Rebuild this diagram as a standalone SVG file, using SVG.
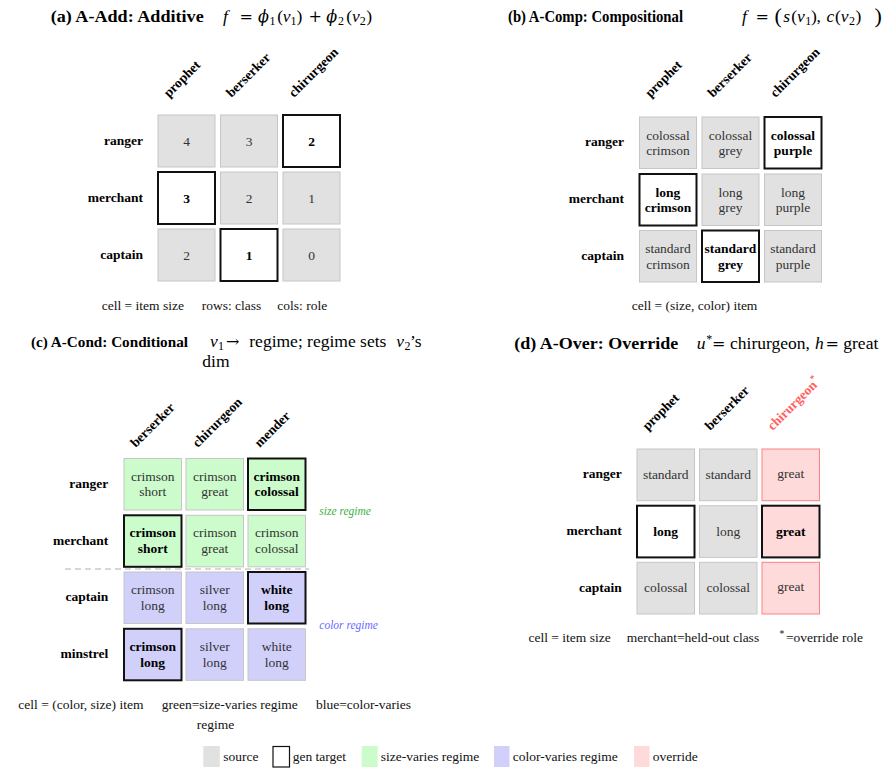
<svg xmlns="http://www.w3.org/2000/svg" width="889" height="775" viewBox="0 0 889 775">
<style>
text{font-family:"Liberation Serif","Times New Roman",serif;}
.ttl{font-size:17.5px;font-weight:bold;fill:#000}
.m{font-size:17.5px;fill:#000}
.i{font-style:italic}
.sb{font-size:12px}
.op{font-family:"DejaVu Serif",serif;font-size:16px}
.ph{font-family:"DejaVu Serif",serif;font-style:italic;font-size:16px}
.src{fill:#e1e1e1;stroke:#c6c6c6;stroke-width:1}
.tgt{fill:#fff;stroke:#111;stroke-width:2}
.grn{fill:#ccfccc;stroke:#c6c6c6;stroke-width:1}
.blu{fill:#d0d0fb;stroke:#c6c6c6;stroke-width:1}
.ovr{fill:#ffdada;stroke:#ff8080;stroke-width:1}
.bx{fill:none;stroke:#111;stroke-width:2}
.ct{font-size:13.5px;fill:#333;text-anchor:middle}
.cb{font-size:13.5px;fill:#000;font-weight:bold;text-anchor:middle}
.rl{font-size:13.5px;font-weight:bold;fill:#000;text-anchor:end}
.cl{font-size:13.5px;font-weight:bold;fill:#000}
.clr{font-size:13.5px;font-weight:bold;fill:#ff6161}
.cap{font-size:13.5px;fill:#111}
</style>

<!-- Panel (a) -->
<g id="panel-a">
  <text class="ttl" x="50.7" y="21.5" textLength="153" lengthAdjust="spacingAndGlyphs">(a) A-Add: Additive</text>
  <text class="m" y="21.5"><tspan class="i" x="223">f</tspan><tspan class="op" x="239.5">=</tspan><tspan class="ph" x="258">ϕ</tspan><tspan class="sb" x="269.5" dy="3">1</tspan><tspan x="277.2" dy="-3">(</tspan><tspan class="i" x="282.7">v</tspan><tspan class="sb" x="290.5" dy="3">1</tspan><tspan x="296.5" dy="-3">)</tspan><tspan class="op" x="308.5">+</tspan><tspan class="ph" x="326.3">ϕ</tspan><tspan class="sb" x="338" dy="3">2</tspan><tspan x="346.3" dy="-3">(</tspan><tspan class="i" x="352">v</tspan><tspan class="sb" x="359.8" dy="3">2</tspan><tspan x="366.3" dy="-3">)</tspan></text>
  <text class="cl" transform="translate(169,98) rotate(-45)">prophet</text>
  <text class="cl" transform="translate(231.5,98) rotate(-45)">berserker</text>
  <text class="cl" transform="translate(294,98) rotate(-45)">chirurgeon</text>
  <text class="rl" x="143" y="144.5">ranger</text>
  <text class="rl" x="143" y="201.5">merchant</text>
  <text class="rl" x="143" y="258.5">captain</text>
  <g id="a-cells">
    <rect class="src" x="158" y="115" width="57" height="52"/><text class="ct" x="186.5" y="145.5">4</text>
    <rect class="src" x="220.5" y="115" width="57" height="52"/><text class="ct" x="249" y="145.5">3</text>
    <rect class="tgt" x="283" y="115" width="57" height="52"/><text class="cb" x="311.5" y="145.5">2</text>
    <rect class="tgt" x="158" y="172" width="57" height="52"/><text class="cb" x="186.5" y="202.5">3</text>
    <rect class="src" x="220.5" y="172" width="57" height="52"/><text class="ct" x="249" y="202.5">2</text>
    <rect class="src" x="283" y="172" width="57" height="52"/><text class="ct" x="311.5" y="202.5">1</text>
    <rect class="src" x="158" y="229" width="57" height="52"/><text class="ct" x="186.5" y="259.5">2</text>
    <rect class="tgt" x="220.5" y="229" width="57" height="52"/><text class="cb" x="249" y="259.5">1</text>
    <rect class="src" x="283" y="229" width="57" height="52"/><text class="ct" x="311.5" y="259.5">0</text>
  </g>
  <text class="cap" x="101.7" y="309.5">cell = item size</text>
  <text class="cap" x="201.7" y="309.5">rows: class</text>
  <text class="cap" x="277.3" y="309.5">cols: role</text>
</g>

<!-- Panel (b) -->
<g id="panel-b">
  <text class="ttl" x="508" y="21.5" textLength="175" lengthAdjust="spacingAndGlyphs">(b) A-Comp: Compositional</text>
  <text class="m" y="21.5"><tspan class="i" x="742">f</tspan><tspan class="op" x="755.5">=</tspan><tspan x="774.5" font-size="22" dy="1.5">(</tspan><tspan class="i" x="783.3" dy="-1.5">s</tspan><tspan x="791.2">(</tspan><tspan class="i" x="797">v</tspan><tspan class="sb" x="805.3" dy="3">1</tspan><tspan x="811" dy="-3">)</tspan><tspan x="816.5">,</tspan><tspan class="i" x="826.5">c</tspan><tspan x="835">(</tspan><tspan class="i" x="840.7">v</tspan><tspan class="sb" x="849" dy="3">2</tspan><tspan x="855.5" dy="-3">)</tspan><tspan x="874.5" font-size="22" dy="1.5">)</tspan></text>
  <text class="cl" transform="translate(650.5,98) rotate(-45)">prophet</text>
  <text class="cl" transform="translate(713,98) rotate(-45)">berserker</text>
  <text class="cl" transform="translate(775.5,98) rotate(-45)">chirurgeon</text>
  <text class="rl" x="624" y="146.2">ranger</text>
  <text class="rl" x="624" y="203.2">merchant</text>
  <text class="rl" x="624" y="259.7">captain</text>
  <g id="b-cells">
    <rect class="src" x="639.5" y="117" width="57" height="51.5"/><text class="ct" x="668" y="139.5">colossal</text><text class="ct" x="668" y="155">crimson</text>
    <rect class="src" x="702" y="117" width="57" height="51.5"/><text class="ct" x="730.5" y="139.5">colossal</text><text class="ct" x="730.5" y="155">grey</text>
    <rect class="tgt" x="764.5" y="117" width="57" height="51.5"/><text class="cb" x="793" y="139.5">colossal</text><text class="cb" x="793" y="155">purple</text>
    <rect class="tgt" x="639.5" y="174" width="57" height="51.5"/><text class="cb" x="668" y="196.5">long</text><text class="cb" x="668" y="212">crimson</text>
    <rect class="src" x="702" y="174" width="57" height="51.5"/><text class="ct" x="730.5" y="196.5">long</text><text class="ct" x="730.5" y="212">grey</text>
    <rect class="src" x="764.5" y="174" width="57" height="51.5"/><text class="ct" x="793" y="196.5">long</text><text class="ct" x="793" y="212">purple</text>
    <rect class="src" x="639.5" y="230.5" width="57" height="51.5"/><text class="ct" x="668" y="253">standard</text><text class="ct" x="668" y="268.5">crimson</text>
    <rect class="tgt" x="702" y="230.5" width="57" height="51.5"/><text class="cb" x="730.5" y="253">standard</text><text class="cb" x="730.5" y="268.5">grey</text>
    <rect class="src" x="764.5" y="230.5" width="57" height="51.5"/><text class="ct" x="793" y="253">standard</text><text class="ct" x="793" y="268.5">purple</text>
  </g>
  <text class="cap" x="631.7" y="310">cell = (size, color) item</text>
</g>

<!-- Panel (c) -->
<g id="panel-c">
  <text class="ttl" x="31" y="346.5" style="font-size:15.2px">(c) A-Cond: Conditional</text>
  <text class="m" y="346.5"><tspan class="i" x="210">v</tspan><tspan class="sb" x="218" dy="3">1</tspan><tspan class="op" x="226" dy="-3">→</tspan><tspan x="249.3">regime; regime sets</tspan><tspan class="i" x="396.2">v</tspan><tspan class="sb" x="404.5" dy="3">2</tspan><tspan x="410" dy="-3">’s</tspan></text>
  <text class="m" x="202.3" y="367">dim</text>
  <text class="cl" transform="translate(135.75,448) rotate(-45)">berserker</text>
  <text class="cl" transform="translate(197.75,448) rotate(-45)">chirurgeon</text>
  <text class="cl" transform="translate(259.75,448) rotate(-45)">mender</text>
  <text class="rl" x="108.3" y="487.7">ranger</text>
  <text class="rl" x="108.3" y="544.5">merchant</text>
  <text class="rl" x="108.3" y="601.2">captain</text>
  <text class="rl" x="108.3" y="658">minstrel</text>
  <g id="c-cells">
    <rect class="grn" x="124" y="458.5" width="57.5" height="51.5"/><text class="ct" x="152.75" y="480.5">crimson</text><text class="ct" x="152.75" y="496.3">short</text>
    <rect class="grn" x="186" y="458.5" width="57.5" height="51.5"/><text class="ct" x="214.75" y="480.5">crimson</text><text class="ct" x="214.75" y="496.3">great</text>
    <rect class="grn" x="248" y="458.5" width="57.5" height="51.5"/><rect class="bx" x="248" y="458.5" width="57.5" height="51.5"/><text class="cb" x="276.75" y="480.5">crimson</text><text class="cb" x="276.75" y="496.3">colossal</text>
    <rect class="grn" x="124" y="515.3" width="57.5" height="51.5"/><rect class="bx" x="124" y="515.3" width="57.5" height="51.5"/><text class="cb" x="152.75" y="537.3">crimson</text><text class="cb" x="152.75" y="553.1">short</text>
    <rect class="grn" x="186" y="515.3" width="57.5" height="51.5"/><text class="ct" x="214.75" y="537.3">crimson</text><text class="ct" x="214.75" y="553.1">great</text>
    <rect class="grn" x="248" y="515.3" width="57.5" height="51.5"/><text class="ct" x="276.75" y="537.3">crimson</text><text class="ct" x="276.75" y="553.1">colossal</text>
    <rect class="blu" x="124" y="572" width="57.5" height="51.5"/><text class="ct" x="152.75" y="594">crimson</text><text class="ct" x="152.75" y="609.8">long</text>
    <rect class="blu" x="186" y="572" width="57.5" height="51.5"/><text class="ct" x="214.75" y="594">silver</text><text class="ct" x="214.75" y="609.8">long</text>
    <rect class="blu" x="248" y="572" width="57.5" height="51.5"/><rect class="bx" x="248" y="572" width="57.5" height="51.5"/><text class="cb" x="276.75" y="594">white</text><text class="cb" x="276.75" y="609.8">long</text>
    <rect class="blu" x="124" y="628.8" width="57.5" height="51.5"/><rect class="bx" x="124" y="628.8" width="57.5" height="51.5"/><text class="cb" x="152.75" y="650.8">crimson</text><text class="cb" x="152.75" y="666.6">long</text>
    <rect class="blu" x="186" y="628.8" width="57.5" height="51.5"/><text class="ct" x="214.75" y="650.8">silver</text><text class="ct" x="214.75" y="666.6">long</text>
    <rect class="blu" x="248" y="628.8" width="57.5" height="51.5"/><text class="ct" x="276.75" y="650.8">white</text><text class="ct" x="276.75" y="666.6">long</text>
  </g>
  <line x1="65" y1="569" x2="309" y2="569" stroke="#b0b0b0" stroke-width="1" stroke-dasharray="6,4"/>
  <text x="319.3" y="515" font-size="11.5" font-style="italic" fill="#3cb043">size regime</text>
  <text x="319.3" y="629" font-size="11.5" font-style="italic" fill="#6a6aff">color regime</text>
  <text class="cap" x="18.3" y="709">cell = (color, size) item</text>
  <text class="cap" x="161.7" y="709">green=size-varies regime</text>
  <text class="cap" x="316" y="709">blue=color-varies</text>
  <text class="cap" x="196.7" y="729">regime</text>
</g>

<!-- Panel (d) -->
<g id="panel-d">
  <text class="ttl" x="514.3" y="349" textLength="164" lengthAdjust="spacingAndGlyphs">(d) A-Over: Override</text>
  <text class="m" y="349"><tspan class="i" x="696.7">u</tspan><tspan class="sb" x="706.2" dy="-6">*</tspan><tspan class="op" x="712" dy="6">=</tspan><tspan x="730">chirurgeon,</tspan><tspan class="i" x="815">h</tspan><tspan class="op" x="825.5">=</tspan><tspan x="843.3">great</tspan></text>
  <text class="cl" transform="translate(647.75,431) rotate(-45)">prophet</text>
  <text class="cl" transform="translate(710.25,431) rotate(-45)">berserker</text>
  <text class="clr" transform="translate(772.75,431) rotate(-45)">chirurgeon<tspan font-size="9" dy="-6">*</tspan></text>
  <text class="rl" x="621.7" y="478.3">ranger</text>
  <text class="rl" x="621.7" y="535">merchant</text>
  <text class="rl" x="621.7" y="591.6">captain</text>
  <g id="d-cells">
    <rect class="src" x="637" y="449" width="57.5" height="51.7"/><text class="ct" x="665.75" y="479.3">standard</text>
    <rect class="src" x="699.5" y="449" width="57.5" height="51.7"/><text class="ct" x="728.25" y="479.3">standard</text>
    <rect class="ovr" x="762" y="449" width="57.5" height="51.7"/><text class="ct" x="790.75" y="477.5">great</text>
    <rect class="tgt" x="637" y="505.7" width="57.5" height="51.7"/><text class="cb" x="665.75" y="535.5">long</text>
    <rect class="src" x="699.5" y="505.7" width="57.5" height="51.7"/><text class="ct" x="728.25" y="535.5">long</text>
    <rect class="ovr" x="762" y="505.7" width="57.5" height="51.7"/><rect class="bx" x="762" y="505.7" width="57.5" height="51.7"/><text class="cb" x="790.75" y="535.5">great</text>
    <rect class="src" x="637" y="562.3" width="57.5" height="51.7"/><text class="ct" x="665.75" y="592.3">colossal</text>
    <rect class="src" x="699.5" y="562.3" width="57.5" height="51.7"/><text class="ct" x="728.25" y="592.3">colossal</text>
    <rect class="ovr" x="762" y="562.3" width="57.5" height="51.7"/><text class="ct" x="790.75" y="591">great</text>
  </g>
  <text class="cap" x="528.5" y="641.5">cell = item size</text>
  <text class="cap" x="626.7" y="641.5">merchant=held-out class</text>
  <text class="cap" x="779.5" y="641.5"><tspan font-size="9.5" dy="-5">*</tspan><tspan x="786" dy="5">=override role</tspan></text>
</g>

<!-- Legend -->
<g id="legend">
  <rect x="203.3" y="746" width="16.5" height="21" fill="#e1e1e1"/>
  <text class="cap" x="223.3" y="761">source</text>
  <rect x="273" y="746.5" width="16.5" height="20.5" fill="#fff" stroke="#111" stroke-width="1.2"/>
  <text class="cap" x="292.7" y="761">gen target</text>
  <rect x="361.7" y="746" width="16" height="21" fill="#ccfccc"/>
  <text class="cap" x="380.7" y="761">size-varies regime</text>
  <rect x="494" y="746" width="15.5" height="21" fill="#d0d0fb"/>
  <text class="cap" x="512.7" y="761">color-varies regime</text>
  <rect x="634" y="746" width="15.5" height="21" fill="#ffdada"/>
  <text class="cap" x="652.7" y="761">override</text>
</g>
<g id="connectors"></g>
</svg>
